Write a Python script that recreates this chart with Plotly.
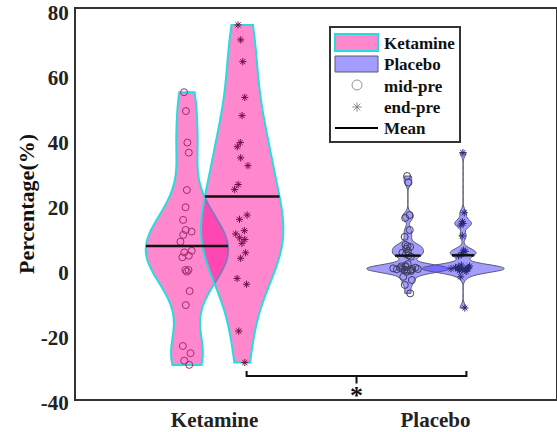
import numpy as np
import plotly.graph_objects as go

# values (percent change)
ket_mid = [54.4, 48.6, 38.9, 35.8, 24.3, 19.0, 15.1, 12.0, 11.5, 10.5, 8.4, 5.6,
           5.1, 4.1, 3.6, -0.3, -0.3, -0.8, -6.8, -11.1, -23.7, -25.9, -28.2, -29.5]
ket_end = [75.1, 70.5, 63.8, 52.8, 47.2, 38.9, 37.6, 34.2, 31.8, 26.0, 24.5, 16.6,
           15.3, 11.8, 10.8, 9.6, 9.1, 7.9, 5.0, 3.3, -2.9, -4.7, -19.1, -28.8]
pla_mid = [28.6, 26.6, 16.6, 15.7, 12.0, 9.9, 7.4, 7.0, 6.8, 6.2, 5.5, 5.0, 4.6,
           4.2, 3.8, 1.5, 1.0, 0.8, 0.6, 0.4, 0.3, 0.2, 0.0, 0.0, 0.0, -0.1, -0.2,
           -0.3, -0.4, -0.6, -0.9, -2.4, -3.4, -4.9, -7.5]
pla_end = [35.8, 17.3, 14.6, 14.0, 13.5, 10.2, 5.8, 5.4, 5.0, 4.5, 4.0, 1.2, 0.9,
           0.7, 0.5, 0.4, 0.3, 0.2, 0.1, 0.0, 0.0, -0.1, -0.2, -0.3, -0.5, -0.8,
           -2.4, -12.0]

groups = ["Ketamine", "Placebo"]
group_pos = [1, 2]
y_ticks = [-40, -20, 0, 20, 40, 60, 80]

FONT = "Liberation Serif"
KET_FILL = "rgba(255,0,150,0.47)"
KET_LINE = "#22dede"
PLA_FILL = "rgba(70,60,255,0.5)"
PLA_LINE = "#5a5a70"

off = 0.125
vwidth = 0.373

fig = go.Figure()


def silverman(vals):
    v = np.asarray(vals)
    q1, q3 = np.percentile(v, [25, 75])
    a = min(v.std(ddof=1), (q3 - q1) / 1.349)
    return 1.059 * a * len(v) ** -0.2


def mean_halfwidth(vals, bw):
    # kde value at the mean relative to its max, like plotly's width scaling
    v = np.asarray(vals)
    grid = np.linspace(v.min(), v.max(), 3000)
    dens = lambda x: np.exp(-0.5 * ((x[:, None] - v[None, :]) / bw) ** 2).sum(1)
    return vwidth / 2 * dens(np.array([v.mean()]))[0] / dens(grid).max()


def add_violin(vals, pos, fill, line, lw, sym, mcol, msize, jitter, bw=None):
    bw = bw or silverman(vals)
    fig.add_trace(go.Violin(
        y=vals, x0=pos, width=vwidth, fillcolor=fill,
        line=dict(color=line, width=lw),
        spanmode="hard", scalemode="width", bandwidth=bw,
        points="all", pointpos=0, jitter=jitter,
        marker=dict(symbol=sym, size=msize, color=mcol, line=dict(width=1, color=mcol)),
        showlegend=False, hoverinfo="skip",
    ))
    hw = mean_halfwidth(vals, bw)
    m = float(np.mean(vals))
    fig.add_shape(type="line", x0=pos - hw, x1=pos + hw, y0=m, y1=m,
                  line=dict(color="#111", width=2.5))


add_violin(ket_mid, group_pos[0] - off, KET_FILL, KET_LINE, 2, "circle-open", "#9c2f6e", 7, 0.2)
add_violin(ket_end, group_pos[0] + off, KET_FILL, KET_LINE, 2, "asterisk-open", "#6e1048", 6, 0.22)
add_violin(pla_mid, group_pos[1] - off, PLA_FILL, PLA_LINE, 1, "circle-open", "#3c3c5c", 7, 0.4, bw=1.1)
add_violin(pla_end, group_pos[1] + off, PLA_FILL, PLA_LINE, 1, "asterisk-open", "#2a2a70", 6, 0.4, bw=1.1)

# significance bracket between the two end-pre violins
br_x0, br_x1 = 1.145, 2.14
br_xm = (br_x0 + br_x1) / 2
br_top, br_y, br_low = -31.4, -32.9, -35.2
fig.add_shape(type="path", xref="x", yref="y",
              path=f"M{br_x0},{br_top} L{br_x0},{br_y} L{br_x1},{br_y} L{br_x1},{br_top} "
                   f"M{br_xm},{br_y} L{br_xm},{br_low}",
              line=dict(color="#111", width=2))
fig.add_annotation(x=br_xm, y=-39.0, xref="x", yref="y", text="*", showarrow=False,
                   font=dict(family=FONT, size=26, color="#111", weight="bold"))

# hand-drawn legend on a pixel overlay (x2/y2)
L = dict(xref="x2", yref="y2")
fig.add_shape(type="rect", x0=330, x1=460, y0=27, y1=142, line=dict(color="#333", width=2),
              fillcolor="white", layer="below", **L)
fig.add_shape(type="rect", x0=335, x1=378, y0=34, y1=51, fillcolor=KET_FILL,
              line=dict(color=KET_LINE, width=2), **L)
fig.add_shape(type="rect", x0=335, x1=378, y0=56, y1=72, fillcolor=PLA_FILL,
              line=dict(color=PLA_LINE, width=1), **L)
fig.add_shape(type="line", x0=335, x1=378, y0=128, y1=128, line=dict(color="black", width=2), **L)
fig.add_trace(go.Scatter(x=[357, 357], y=[85, 107], xaxis="x2", yaxis="y2", mode="markers",
                         marker=dict(symbol=["circle-open", "asterisk-open"], size=[10, 8],
                                     color="#666", line=dict(width=1, color="#666")),
                         showlegend=False, hoverinfo="skip"))
for txt, yy in zip(["Ketamine", "Placebo", "mid-pre", "end-pre", "Mean"], [43, 64, 86, 107, 128]):
    fig.add_annotation(x=382, y=yy, text=txt, showarrow=False, xanchor="left", yanchor="middle",
                       font=dict(family=FONT, size=17, color="#111", weight="bold"), **L)

fig.update_layout(
    width=557, height=432,
    margin=dict(l=76, r=1, t=9, b=33),
    plot_bgcolor="white", paper_bgcolor="white",
    violinmode="overlay",
    xaxis=dict(type="linear", range=[0.3727, 2.5455], tickvals=group_pos, ticktext=groups,
               showgrid=False, zeroline=False, showline=True, mirror=True, automargin=False,
               linecolor="#333", linewidth=2, ticks="", ticklabelstandoff=1,
               tickfont=dict(family=FONT, size=21, color="#222", weight="bold")),
    yaxis=dict(range=[-40, 80], tickvals=y_ticks, ticktext=[str(v) for v in y_ticks],
               showgrid=False, zeroline=False,
               showline=True, mirror=True, linecolor="#333", linewidth=2, ticks="",
               ticklabelstandoff=1, ticklabelshift=4, ticklabeloverflow="allow",
               automargin=False,
               tickfont=dict(family=FONT, size=21, color="#222", weight="bold"),
               title=dict(text="Percentage(%)", standoff=0,
                          font=dict(family=FONT, size=22, color="#111", weight="bold"))),
    xaxis2=dict(overlaying="x", range=[76, 556], visible=False),
    yaxis2=dict(overlaying="y", range=[399, 9], visible=False),
)

fig.write_html("out.html", config={"displayModeBar": False},
               post_script="document.body.style.margin='0';")
